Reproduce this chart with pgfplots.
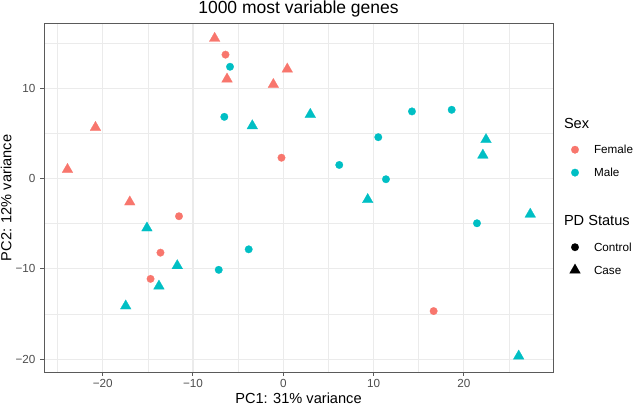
\documentclass[border=0pt]{standalone}
\usepackage{pgfplots}
\pgfplotsset{compat=1.18}
\usepackage{fontspec}
\setmainfont{Liberation Sans}
\definecolor{fem}{HTML}{F8766D}
\definecolor{mal}{HTML}{00BFC4}
\definecolor{gridc}{HTML}{EBEBEB}
\definecolor{grey20}{HTML}{5A5A5A}
\definecolor{grey30}{HTML}{4D4D4D}
\newcommand{\fsA}{\fontsize{11.7bp}{13bp}\selectfont}
\newcommand{\fsB}{\fontsize{14.6bp}{17bp}\selectfont}
\newcommand{\fsC}{\fontsize{17.5bp}{20bp}\selectfont}
\pgfplotsset{
 legkey/.style={legend image code/.code={\path[draw=none, fill=none] (0bp,-11.45bp) rectangle (30bp,11.45bp); \draw[##1] plot coordinates {(11bp,0bp)};}},
 legsex/.style={legend image code/.code={\path[draw=none, fill=none] (0bp,-14.95bp) rectangle (30bp,14.95bp); \node[overlay, anchor=west, inner sep=0pt, font=\fsB, text=black, draw=none] at (0bp,0bp) {Sex};}},
 legblank/.style={legend image code/.code={\path[draw=none, fill=none] (0bp,-10.7bp) rectangle (30bp,10.7bp);}},
 legpd/.style={legend image code/.code={\path[draw=none, fill=none] (0bp,-15.15bp) rectangle (30bp,15.15bp); \node[overlay, anchor=west, inner sep=0pt, font=\fsB, text=black, draw=none] at (0bp,0bp) {PD Status};}},
}
\begin{document}
\begin{tikzpicture}
\useasboundingbox (0,0) rectangle (633bp,406bp);
\begin{axis}[
 at={(44bp,34bp)}, anchor=south west,
 scale only axis, width=509bp, height=348bp,
 xmin=-26.5, xmax=29.87, ymin=-21.4, ymax=17.09,
 xtick={-20,-10,0,10,20}, xticklabels={−20,−10,0,10,20},
 ytick={-20,-10,0,10}, yticklabels={−20,−10,0,10},
 minor xtick={-25,-15,-5,5,15,25}, minor ytick={-15,-5,5,15},
 grid=both,
 major grid style={draw=gridc, line width=1.07bp},
 minor grid style={draw=gridc, line width=0.53bp},
 axis line style={draw=grey20, line width=1bp},
 tick pos=left, tick align=outside,
 major tick length=3.5bp, minor tick length=0pt,
 tick style={draw=grey20, line width=1bp},
 ticklabel style={font=\fsA, text=grey30, inner sep=0pt},
 xticklabel style={yshift=-4.1bp},
 yticklabel style={xshift=-4.8bp},
 every axis title shift=0pt,
 title={1000 most variable genes},
 title style={at={(axis description cs:0.5,1.0307)}, anchor=base, font=\fsC, inner sep=0pt},
 xlabel={PC1: 31\% variance},
 xlabel style={at={(axis description cs:0.5,-0.0905)}, anchor=base, font=\fsB, inner sep=0pt},
 ylabel={PC2: 12\% variance},
 ylabel style={at={(axis description cs:-0.0639,0.5)}, anchor=base, font=\fsB, inner sep=0pt},
 legend cell align=left,
 legend style={at={(axis description cs:1.02161,0.7576)}, anchor=north west,
   draw=none, fill=none, inner sep=0pt, outer sep=0pt,
   row sep=0pt, column sep=0pt,
   nodes={inner sep=0pt, outer sep=0pt, text depth=0pt}, font=\fsA},
]
% Female, Case (triangles)
\addplot[only marks, mark=triangle*, mark size=6.2bp, color=fem, mark options={draw=fem, fill=fem, line width=0.2bp}, forget plot] coordinates {
(-7.6,15.5) (-6.23,11.0) (-1.1,10.4) (0.44,12.1) (-20.8,5.65) (-23.9,1.0) (-17.0,-2.6)};
% Female, Control (circles)
\addplot[only marks, mark=*, mark size=3.8bp, color=fem, mark options={draw=fem, fill=fem, line width=0.2bp}, forget plot] coordinates {
(-6.4,13.7) (-0.2,2.3) (-11.55,-4.17) (-13.6,-8.2) (-14.7,-11.1) (16.65,-14.66)};
% Male, Control (circles)
\addplot[only marks, mark=*, mark size=3.8bp, color=mal, mark options={draw=mal, fill=mal, line width=0.2bp}, forget plot] coordinates {
(-5.9,12.36) (-6.53,6.82) (14.25,7.42) (18.65,7.6) (10.52,4.57) (6.2,1.5) (11.37,-0.08) (21.45,-4.95) (-3.83,-7.83) (-7.15,-10.1)};
% Male, Case (triangles)
\addplot[only marks, mark=triangle*, mark size=6.2bp, color=mal, mark options={draw=mal, fill=mal, line width=0.2bp}, forget plot] coordinates {
(-3.43,5.83) (2.99,7.09) (22.45,4.3) (22.1,2.58) (9.35,-2.33) (27.35,-3.95) (26.07,-19.64) (-15.1,-5.47) (-11.74,-9.64) (-13.77,-11.9) (-17.45,-14.1)};
% legend
\addlegendimage{legsex}
\addlegendentry{}
\addlegendimage{only marks, mark=*, mark size=3.8bp, color=fem, mark options={draw=fem, fill=fem, line width=0.2bp}, legkey}
\addlegendentry{Female}
\addlegendimage{only marks, mark=*, mark size=3.8bp, color=mal, mark options={draw=mal, fill=mal, line width=0.2bp}, legkey}
\addlegendentry{Male}
\addlegendimage{legblank}
\addlegendentry{}
\addlegendimage{legpd}
\addlegendentry{}
\addlegendimage{only marks, mark=*, mark size=3.8bp, color=black, mark options={draw=black, fill=black, line width=0.2bp}, legkey}
\addlegendentry{Control}
\addlegendimage{only marks, mark=triangle*, mark size=6.2bp, color=black, mark options={draw=black, fill=black, line width=0.2bp}, legkey}
\addlegendentry{Case}
\end{axis}
\end{tikzpicture}
\end{document}
